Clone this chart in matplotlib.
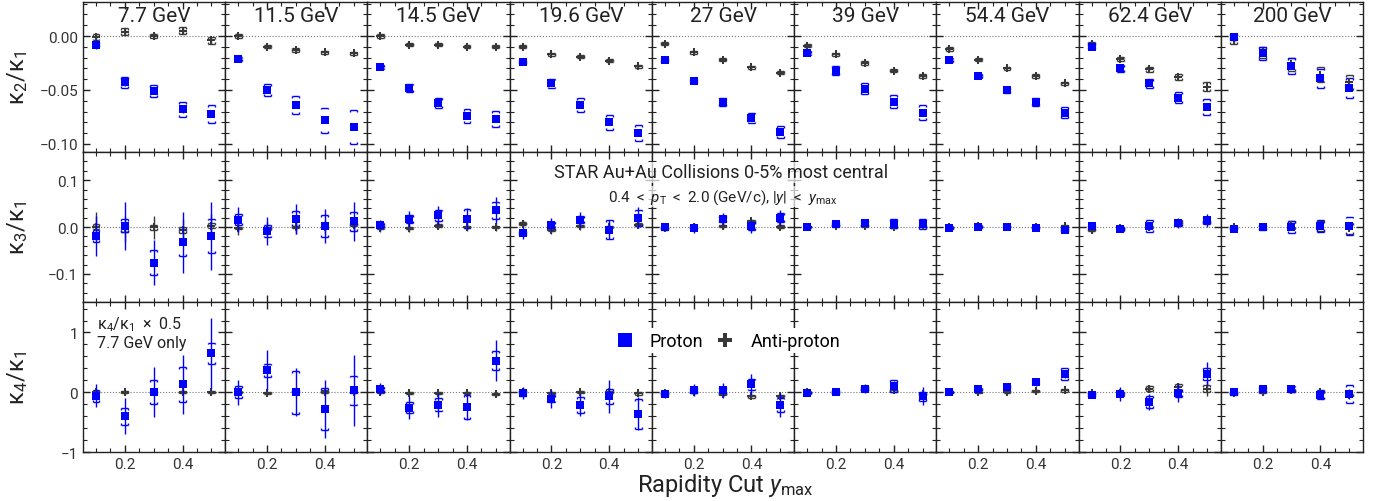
import numpy as np
import matplotlib
matplotlib.use("Agg")
import matplotlib.pyplot as plt
from matplotlib.ticker import MultipleLocator
from matplotlib.lines import Line2D

plt.rcParams['font.family'] = ['Roboto', 'DejaVu Sans']
plt.rcParams['mathtext.fontset'] = 'custom'
plt.rcParams['mathtext.rm'] = 'Roboto'
plt.rcParams['mathtext.it'] = 'Roboto:italic'
plt.rcParams['mathtext.bf'] = 'Roboto:bold'

# energies and rapidity cuts
energies = ["7.7 GeV", "11.5 GeV", "14.5 GeV", "19.6 GeV", "27 GeV",
            "39 GeV", "54.4 GeV", "62.4 GeV", "200 GeV"]
ymax = [0.1, 0.2, 0.3, 0.4, 0.5]

# kappa2/kappa1
k21_p = [[-0.008, -0.043, -0.051, -0.068, -0.072],
         [-0.021, -0.050, -0.064, -0.078, -0.084],
         [-0.029, -0.048, -0.062, -0.074, -0.077],
         [-0.024, -0.044, -0.064, -0.080, -0.090],
         [-0.022, -0.042, -0.061, -0.076, -0.089],
         [-0.016, -0.032, -0.049, -0.061, -0.071],
         [-0.022, -0.037, -0.050, -0.061, -0.071],
         [-0.010, -0.030, -0.044, -0.057, -0.066],
         [-0.001, -0.016, -0.028, -0.039, -0.048]]
k21_p_stat = [[0.004, 0.003, 0.003, 0.003, 0.003]] + [[0.002] * 5] * 8
k21_p_sys = [[0.002, 0.005, 0.0057, 0.007, 0.0083],
             [0.002, 0.0054, 0.0085, 0.0116, 0.0157],
             [0.002, 0.0039, 0.0048, 0.0062, 0.0071],
             [0.002, 0.0046, 0.0062, 0.0069, 0.0074],
             [0.002, 0.002, 0.004, 0.005, 0.0057],
             [0.002, 0.0042, 0.005, 0.0059, 0.0069],
             [0.002, 0.002, 0.003, 0.004, 0.005],
             [0.002, 0.003, 0.004, 0.0052, 0.0073],
             [0.003, 0.0062, 0.0074, 0.0088, 0.0091]]
k21_pbar = [[-0.001, 0.004, 0.000, 0.005, -0.004],
            [0.000, -0.010, -0.013, -0.015, -0.016],
            [0.000, -0.008, -0.008, -0.010, -0.010],
            [-0.010, -0.017, -0.019, -0.023, -0.028],
            [-0.007, -0.015, -0.022, -0.029, -0.034],
            [-0.009, -0.017, -0.025, -0.032, -0.037],
            [-0.012, -0.022, -0.030, -0.037, -0.044],
            [-0.007, -0.021, -0.031, -0.038, -0.047],
            [-0.004, -0.015, -0.026, -0.036, -0.043]]
k21_pbar_stat = [[0.004, 0.003, 0.003, 0.003, 0.003]] + [[0.0015] * 5] * 8
k21_pbar_sys = ([[0.003, 0.003, 0.002, 0.003, 0.003]] + [[0.0015] * 5] * 6
                + [[0.0015, 0.002, 0.002, 0.003, 0.004]]
                + [[0.003, 0.005, 0.006, 0.007, 0.007]])

# kappa3/kappa1
k31_p = [[-0.019, 0.003, -0.076, -0.033, -0.019],
         [0.016, -0.009, 0.018, 0.002, 0.012],
         [0.004, 0.017, 0.025, 0.018, 0.036],
         [-0.013, 0.005, 0.016, -0.006, 0.020],
         [0.000, -0.002, 0.017, 0.002, 0.020],
         [0.001, 0.007, 0.008, 0.007, 0.007],
         [-0.002, 0.000, 0.000, -0.002, -0.007],
         [0.002, -0.004, 0.002, 0.009, 0.014],
         [-0.004, -0.001, 0.000, 0.003, 0.002]]
k31_p_stat = [[0.043, 0.051, 0.048, 0.066, 0.073],
              [0.027, 0.030, 0.032, 0.037, 0.041],
              [0.010, 0.018, 0.020, 0.022, 0.028],
              [0.012, 0.014, 0.017, 0.020, 0.022],
              [0.006, 0.010, 0.012, 0.014, 0.016],
              [0.003, 0.004, 0.005, 0.006, 0.007],
              [0.003, 0.004, 0.004, 0.005, 0.006],
              [0.005, 0.007, 0.009, 0.011, 0.013],
              [0.003, 0.004, 0.005, 0.006, 0.007]]
k31_p_sys = [[0.012, 0.014, 0.027, 0.029, 0.037],
             [0.012, 0.013, 0.016, 0.023, 0.020],
             [0.004, 0.008, 0.012, 0.020, 0.018],
             [0.004, 0.006, 0.008, 0.020, 0.017],
             [0.003, 0.003, 0.006, 0.008, 0.009],
             [0.002, 0.004, 0.006, 0.010, 0.011],
             [0.002, 0.002, 0.003, 0.003, 0.004],
             [0.003, 0.004, 0.012, 0.007, 0.008],
             [0.003, 0.005, 0.012, 0.013, 0.020]]
k31_pbar = [[0.001, -0.004, -0.001, -0.007, 0.003],
            [-0.002, -0.004, 0.000, 0.000, 0.005],
            [-0.002, -0.002, 0.003, 0.000, 0.000],
            [0.007, -0.006, 0.002, 0.000, 0.005],
            [-0.003, 0.000, 0.002, 0.012, 0.001],
            [0.000, 0.003, 0.002, 0.000, 0.002],
            [0.000, 0.002, 0.001, 0.000, 0.002],
            [-0.006, -0.003, 0.000, 0.009, 0.012],
            [0.000, 0.000, 0.004, 0.002, -0.003]]
k31_pbar_stat = [[0.030, 0.028, 0.025, 0.025, 0.025],
                 [0.015] * 5, [0.008] * 5, [0.008] * 5, [0.006] * 5,
                 [0.003] * 5, [0.003] * 5, [0.006] * 5, [0.004] * 5]
k31_pbar_sys = ([[0.006] * 5] + [[0.003] * 5] * 7
                + [[0.003, 0.005, 0.008, 0.010, 0.012]])

# kappa4/kappa1 (7.7 GeV scaled by 0.5)
k41_p = [[-0.06, -0.40, 0.00, 0.13, 0.65],
         [0.00, 0.37, 0.00, -0.28, 0.03],
         [0.05, -0.26, -0.21, -0.25, 0.53],
         [-0.02, -0.11, -0.21, -0.07, -0.36],
         [-0.03, 0.03, 0.03, 0.13, -0.21],
         [-0.01, 0.00, 0.06, 0.10, -0.07],
         [0.00, 0.05, 0.09, 0.17, 0.31],
         [-0.05, -0.03, -0.16, -0.02, 0.31],
         [0.00, 0.05, 0.06, -0.04, -0.03]]
k41_p_stat = [[0.19, 0.30, 0.42, 0.50, 0.59],
              [0.21, 0.33, 0.40, 0.49, 0.59],
              [0.10, 0.19, 0.20, 0.22, 0.35],
              [0.10, 0.15, 0.18, 0.28, 0.28],
              [0.06, 0.10, 0.13, 0.17, 0.20],
              [0.03, 0.05, 0.07, 0.09, 0.15],
              [0.03, 0.04, 0.05, 0.06, 0.07],
              [0.05, 0.12, 0.13, 0.15, 0.19],
              [0.03, 0.04, 0.05, 0.07, 0.08]]
k41_p_sys = [[0.10, 0.14, 0.20, 0.29, 0.18],
             [0.10, 0.11, 0.36, 0.35, 0.25],
             [0.04, 0.09, 0.11, 0.20, 0.16],
             [0.05, 0.06, 0.13, 0.12, 0.25],
             [0.03, 0.04, 0.06, 0.10, 0.12],
             [0.02, 0.03, 0.04, 0.10, 0.08],
             [0.02, 0.02, 0.03, 0.04, 0.10],
             [0.03, 0.04, 0.10, 0.06, 0.10],
             [0.02, 0.04, 0.05, 0.07, 0.15]]
k41_pbar = [[0.00, 0.00, 0.00, 0.00, 0.00],
            [0.00, -0.01, 0.01, 0.01, 0.00],
            [0.00, -0.01, -0.01, -0.01, -0.03],
            [0.00, -0.01, 0.00, 0.00, -0.02],
            [-0.01, 0.00, -0.03, -0.07, -0.06],
            [0.00, 0.00, 0.05, 0.03, -0.03],
            [0.00, 0.00, 0.01, 0.02, 0.03],
            [-0.01, -0.02, 0.06, 0.08, 0.06],
            [-0.02, 0.00, 0.03, 0.00, -0.05]]
k41_pbar_stat = ([[0.03] * 5] * 7 + [[0.03, 0.04, 0.06, 0.08, 0.13]]
                 + [[0.03] * 5])
k41_pbar_sys = [[0.02] * 5] * 7 + [[0.02, 0.03, 0.04, 0.05, 0.06]] + [[0.02] * 5]

rows = [(k21_p, k21_p_stat, k21_p_sys, k21_pbar, k21_pbar_stat, k21_pbar_sys),
        (k31_p, k31_p_stat, k31_p_sys, k31_pbar, k31_pbar_stat, k31_pbar_sys),
        (k41_p, k41_p_stat, k41_p_sys, k41_pbar, k41_pbar_stat, k41_pbar_sys)]
ylabels = [r'$\mathrm{\kappa}_2/\mathrm{\kappa}_1$', r'$\mathrm{\kappa}_3/\mathrm{\kappa}_1$',
           r'$\mathrm{\kappa}_4/\mathrm{\kappa}_1$']
ylims = [(-0.1075, 0.0315), (-0.16, 0.16), (-1.0, 1.51)]
ymajor = [0.05, 0.1, 1.0]
yminor = [0.01, 0.02, 0.2]

blue = '#0000ff'
grey = '#383838'


def sys_brackets(ax, x, y, err, color, dy):
    x = np.asarray(x); y = np.asarray(y); err = np.asarray(err)
    w = 0.012
    top = y + err
    bot = y - err
    ax.hlines(top, x - w, x + w, color=color, lw=1.0, zorder=3)
    ax.hlines(bot, x - w, x + w, color=color, lw=1.0, zorder=3)
    for s in (-1, 1):
        ax.vlines(x + s * w, top - dy, top, color=color, lw=1.0, zorder=3)
        ax.vlines(x + s * w, bot, bot + dy, color=color, lw=1.0, zorder=3)


fig, axes = plt.subplots(3, 9, figsize=(13.9, 5.02), dpi=100, sharex=True, sharey='row')
fig.subplots_adjust(left=0.0597, right=0.9806, top=0.994, bottom=0.0976, wspace=0, hspace=0)

for r in range(3):
    p, ps, pe, a, as_, ae = rows[r]
    dy = (ylims[r][1] - ylims[r][0]) * 0.012
    for c in range(9):
        ax = axes[r, c]
        ax.axhline(0, color='#777777', ls=':', lw=0.8, zorder=1)
        # anti-proton
        ax.errorbar(ymax, a[c], yerr=as_[c], fmt='none', ecolor=grey, elinewidth=1.0, zorder=4)
        sys_brackets(ax, ymax, a[c], ae[c], grey, dy)
        ax.plot(ymax, a[c], 'P', color=grey, ms=6, mew=0, zorder=5)
        # proton
        ax.errorbar(ymax, p[c], yerr=ps[c], fmt='none', ecolor=blue, elinewidth=1.0, zorder=6)
        sys_brackets(ax, ymax, p[c], pe[c], blue, dy)
        ax.plot(ymax, p[c], 's', color=blue, ms=6, mew=0, zorder=7)

        ax.set_xlim(0.055, 0.548)
        ax.set_ylim(*ylims[r])
        ax.xaxis.set_major_locator(MultipleLocator(0.2))
        ax.xaxis.set_minor_locator(MultipleLocator(0.05))
        ax.yaxis.set_major_locator(MultipleLocator(ymajor[r]))
        ax.yaxis.set_minor_locator(MultipleLocator(yminor[r]))
        ax.tick_params(which='both', direction='in', top=True, right=True,
                       color='#222222', labelsize=11, labelcolor='#333333')
        ax.tick_params(which='major', length=5, width=1.0)
        ax.tick_params(which='minor', length=3, width=0.8)
        for sp in ax.spines.values():
            sp.set_color('#222222')
            sp.set_linewidth(1.0)
        if r == 0:
            ax.text(0.5, 0.975, energies[c], transform=ax.transAxes, ha='center',
                    va='top', fontsize=15, color='#222222')
    axes[r, 0].set_ylabel(ylabels[r], fontsize=17, color='#222222')
    axes[r, 0].yaxis.set_label_coords(-0.37, 0.5)

axes[2, 0].text(0.1, 0.92, r'$\mathrm{\kappa}_4/\mathrm{\kappa}_1\ \times\ 0.5$' + '\n7.7 GeV only',
                transform=axes[2, 0].transAxes, ha='left', va='top', fontsize=11.5,
                color='#222222', linespacing=1.2)

fig.text(0.519, 0.655, 'STAR Au+Au Collisions 0-5% most central', ha='center',
         va='center', fontsize=13, color='#222222',
         bbox=dict(facecolor='white', edgecolor='none', alpha=0.7, pad=1))
fig.text(0.520, 0.607,
         r'$0.4\ <\ p_{\mathrm{T}}\ <\ 2.0$ (GeV/c), $|y|\ <\ y_{\mathrm{max}}$',
         ha='center', va='center', fontsize=11, color='#222222',
         bbox=dict(facecolor='white', edgecolor='none', alpha=0.7, pad=1))

handles = [Line2D([], [], ls='none', marker='s', color=blue, ms=10, mew=0),
           Line2D([], [], ls='none', marker='P', color=grey, ms=10, mew=0)]
leg = fig.legend(handles, ['Proton', 'Anti-proton'], loc='center',
                 bbox_to_anchor=(0.523, 0.319), ncol=2, frameon=True,
                 fontsize=13, handletextpad=0.8, columnspacing=0.6,
                 borderpad=0.2, handlelength=1.2)
leg.get_frame().set_edgecolor('none')
leg.get_frame().set_facecolor('white')
leg.get_frame().set_alpha(1.0)

fig.text(0.5216, 0.032, r'Rapidity Cut $y_{\mathrm{max}}$', ha='center', va='center',
         fontsize=17, color='#222222')

fig.savefig('out.png', dpi=100)
